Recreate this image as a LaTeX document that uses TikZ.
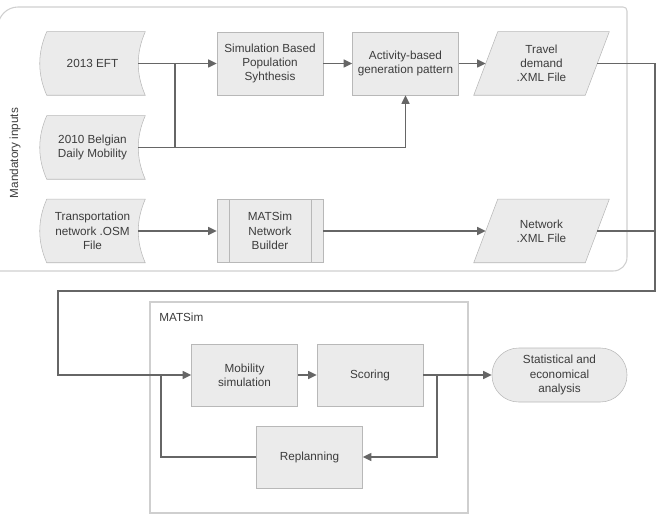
\documentclass[tikz,border=0pt]{standalone}
\usepackage{fontspec}
\setmainfont{Liberation Sans}
\usetikzlibrary{arrows.meta,calc,backgrounds}
\definecolor{boxfill}{HTML}{EBEBEB}
\definecolor{boxline}{HTML}{B8B8B8}
\definecolor{conn}{HTML}{666666}
\definecolor{txt}{HTML}{3C3C3C}
\definecolor{frame}{HTML}{CFCFCF}
\tikzset{
 base/.style={font=\fontsize{8.8}{10.7}\selectfont, text=txt, align=center, inner sep=0pt},
 proc/.style={base, draw=boxline, fill=boxfill, minimum width=79.5pt, minimum height=47.25pt},
 ghost/.style={base, minimum width=#1, minimum height=47.25pt},
 shapeline/.style={draw=boxline, fill=boxfill},
 link/.style={draw=conn, line width=1.1pt},
 arr/.style={link, -{Triangle[length=6.5pt,width=6pt]}},
 frameline/.style={draw=frame, line width=0.8pt},
}
\newcommand{\storeddraw}[1]{%
 \path[shapeline] ([xshift=5.25pt]#1.north west) -- (#1.north east)
 .. controls ($(#1.north east)!0.333!(#1.south east)+(-7pt,0)$) and ($(#1.north east)!0.667!(#1.south east)+(-7pt,0)$) .. (#1.south east)
 -- ([xshift=5.25pt]#1.south west)
 .. controls ($(#1.north west)!0.667!(#1.south west)+(-1.75pt,0)$) and ($(#1.north west)!0.333!(#1.south west)+(-1.75pt,0)$) .. ([xshift=5.25pt]#1.north west) -- cycle;}
\newcommand{\paradraw}[1]{%
 \path[shapeline] ([xshift=18pt]#1.north west) -- (#1.north east) -- ([xshift=-18pt]#1.south east) -- (#1.south west) -- cycle;}
\begin{document}
\begin{tikzpicture}[x=0.75pt,y=-0.75pt]
\useasboundingbox (0,0) rectangle (660,520);
% nodes
\node[ghost=78.75pt] (eft) at (92.5,63.5) {2013 EFT};
\node[ghost=78.75pt] (bel) at (92.5,147.5) {2010 Belgian\\Daily Mobility};
\node[ghost=78.75pt] (osm) at (92.5,231) {Transportation\\network .OSM\\File};
\node[proc] (sim) at (270,63.5) {Simulation Based\\Population\\Syhthesis};
\node[proc] (act) at (405.5,63.5) {Activity-based\\generation pattern};
\node[ghost=101.25pt] (td) at (541.5,63.5) {Travel\\demand\\.XML File};
\node[proc] (bld) at (270,231) {MATSim\\Network\\Builder};
\node[ghost=101.25pt] (net) at (541.5,231) {Network\\.XML File};
\node[proc, minimum height=46.5pt] (mob) at (244.5,375) {Mobility\\simulation};
\node[proc, minimum height=46.5pt] (sco) at (370,375) {Scoring};
\node[proc, minimum height=46.5pt] (rep) at (309.5,457) {Replanning};
\node[base, draw=boxline, fill=boxfill, rounded corners=20pt, minimum width=101.25pt, minimum height=40.5pt] (stat) at (559.5,375) {Statistical and\\economical\\analysis};
\node[base, rotate=90] (mi) at (15,153) {Mandatory inputs};
\node[base, anchor=west] (mt) at (159,317) {MATSim};
\draw[draw=boxline] ([xshift=9.75pt]bld.north west) -- ([xshift=9.75pt]bld.south west);
\draw[draw=boxline] ([xshift=-9pt]bld.north east) -- ([xshift=-9pt]bld.south east);
% background shapes
\begin{scope}[on background layer]
\path[frameline] (-2,271) -- (-2,27) .. controls (-2,16) and (7,7) .. (18,7) -- (623,7) .. controls (625.5,7) and (627,8.5) .. (627,11) -- (627,257) .. controls (627,265) and (621,271) .. (613,271) -- cycle;
\path[frameline] (150,302) rectangle (468,513);
\storeddraw{eft}
\storeddraw{bel}
\storeddraw{osm}
\paradraw{td}
\paradraw{net}
\end{scope}
% coordinates
\coordinate (eftR) at ([xshift=-5.25pt]eft.east);
\coordinate (belR) at ([xshift=-5.25pt]bel.east);
\coordinate (osmR) at ([xshift=-5.25pt]osm.east);
\coordinate (tdL) at ([xshift=9pt]td.west);
\coordinate (tdR) at ([xshift=-9pt]td.east);
\coordinate (netL) at ([xshift=9pt]net.west);
\coordinate (netR) at ([xshift=-9pt]net.east);
\coordinate (j1) at (175,147.5);
\coordinate (j2) at (175,63.5);
\coordinate (rr) at (655,291);
\coordinate (ll) at (58,291);
\coordinate (js) at (437,375);
\coordinate (jm) at (161,375);
% connectors
\draw[arr] (eftR) -- (sim.west);
\draw[link] (j1) -- (j2);
\draw[arr] (belR) -| (act.south);
\draw[arr] (sim.east) -- (act.west);
\draw[arr] (act.east) -- (tdL);
\draw[arr] (osmR) -- (bld.west);
\draw[arr] (bld.east) -- (netL);
\draw[arr] (tdR) -| (rr) -- (ll) |- (mob.west);
\draw[link] (netR) -- (netR -| rr);
\draw[arr] (mob.east) -- (sco.west);
\draw[arr] (sco.east) -- (stat.west);
\draw[arr] (js) |- (rep.east);
\draw[link] (rep.west) -| (jm);
\end{tikzpicture}
\end{document}
